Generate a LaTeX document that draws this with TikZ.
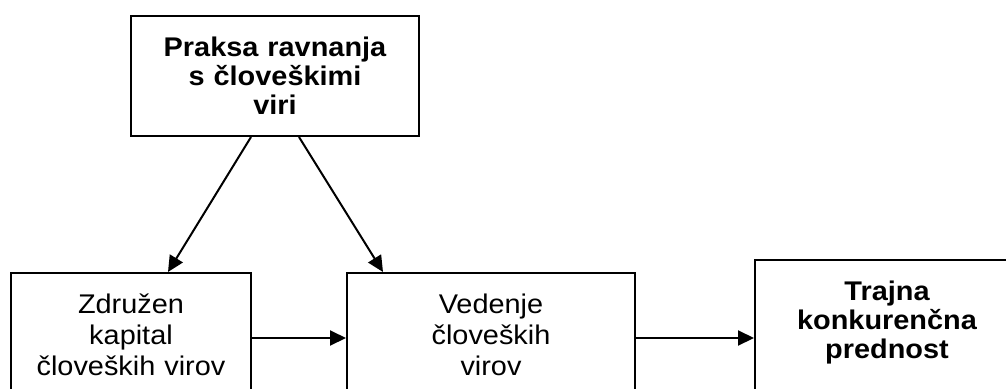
\documentclass[tikz,border=0pt]{standalone}
\usepackage{fontspec}
\setmainfont{Liberation Sans}[FakeStretch=1.07]
\usepackage{tikz}
\usetikzlibrary{arrows.meta}
\tikzset{%Global config
	>={Triangle[length=16pt,width=15pt]},
	color = black ,
	%Styles
	Box/.style={
		draw,
		line width=2pt,
		inner sep=0pt,
		align=center,
		anchor=north west,
		text height=40pt, % first baseline sits 40pt below the top edge
		font=\fontsize{27}{31}\selectfont,
	},
	BoldBox/.style={
		Box,
		font=\fontsize{27}{29}\selectfont\bfseries,
	},
	Arr/.style={
		->,
		line width=2pt,
	}
}

\begin{document}
\begin{tikzpicture}[x=1pt,y=-1pt]
		\clip (0,0) rectangle (1006,388);
		% boxes, the lower ones run past the frame
		\node[BoldBox, text width=288pt, text depth=80pt] (praksa) at (130,15) {Praksa ravnanja\\ s človeškimi\\ viri};
		\node[Box, text width=240pt, text depth=90pt] (kapital) at (10,272) {Združen\\ kapital\\ človeških virov};
		\node[Box, text width=288pt, text depth=90pt] (vedenje) at (346,272) {Vedenje\\ človeških\\ virov};
		\node[BoldBox, text width=264pt, text depth=116pt] (prednost) at (754,259) {Trajna\\ konkurenčna\\ prednost};
		
		\draw[Arr] ([xshift=-24pt]praksa.south) -- ([xshift=37pt]kapital.north);
		\draw[Arr] ([xshift=24pt]praksa.south) -- ([xshift=37pt]vedenje.north west);
		\draw[Arr] (kapital.east) -- (vedenje.west);
		\draw[Arr] (vedenje.east) -- (prednost.west);
	\end{tikzpicture}
\end{document}
